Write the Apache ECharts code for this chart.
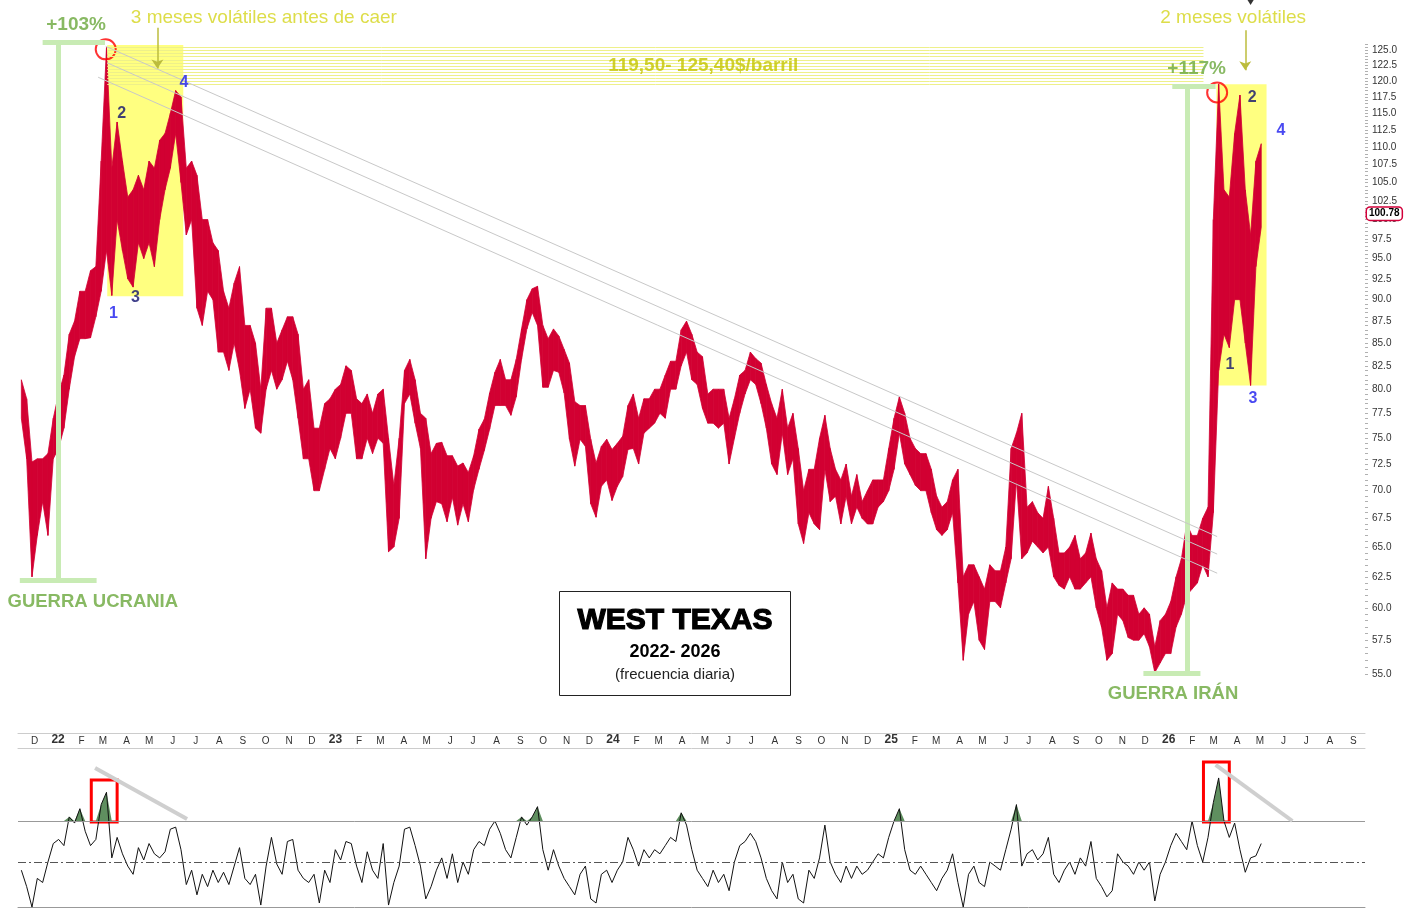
<!DOCTYPE html>
<html>
<head>
<meta charset="utf-8">
<title>West Texas 2022-2026</title>
<script src="https://cdn.jsdelivr.net/npm/echarts@6.0.0/dist/echarts.min.js"></script>
<style>
  html, body { margin: 0; padding: 0; background: #fff; }
  #chart { width: 1416px; height: 910px; }
</style>
</head>
<body>
<div id="chart"></div>
<script>
// one value pair per week, dated on the wednesday; first week = 15-19 nov 2021
const firstWeek = '2021-11-17'

const highs = [
  // 2021
  81, 79, 72.7, 73, 73, 73.5, 77,
  // 2022
  79.5, 81.5, 86, 87.5, 91, 91, 93.5, 94, 108, 125.4,
  107, 113.7, 108, 103, 104, 106, 104, 108, 107, 111,
  112, 115, 118.5, 117.5, 107, 108, 106, 100, 100, 97,
  96, 91, 89, 92, 94, 87, 87, 85, 80, 89,
  89, 85, 86.5, 88, 88, 86, 80, 81, 76, 76,
  78.5, 79,
  // 2023
  80, 80.5, 82.5, 82, 79, 78.5, 79.5, 77.5, 79.5, 80,
  75, 70.5, 75, 82, 83.2, 81, 77.5, 77, 73.5, 74.5,
  74.6, 73.3, 73.3, 72.3, 72.6, 71.7, 73.3, 75.9, 76.9, 79.6,
  81.8, 83.2, 81, 81, 83.2, 86.6, 90, 91.3, 91.6, 87,
  85.5, 86.6, 85.8, 84.3, 82.8, 78.7, 78.3, 78.3, 74.9, 72.6,
  74.2, 74.9,
  // 2024
  73.9, 74.5, 75.2, 78.3, 79.5, 77, 79, 79, 80, 80,
  81.5, 83, 83, 86.5, 87.5, 86, 84, 83.5, 79.5, 80,
  80, 80, 77, 79, 81.5, 82, 84, 83.3, 82.8, 80.5,
  78.5, 77, 80, 76, 77.5, 74, 70, 72, 72, 75,
  77.3, 74, 72, 71, 72.5, 69.5, 71.5, 69, 70, 71,
  71, 71, 74,
  // 2025
  77, 79.2, 77.5, 75, 74, 73.5, 73.5, 72, 69.5, 68.5,
  69, 71, 72, 62.5, 63.5, 63.5, 62.5, 61.5, 63.5, 63,
  63, 65, 74, 75.5, 77.5, 68.5, 69, 68, 67.5, 70.4,
  67.5, 64.5, 64.5, 65, 66, 64, 64.5, 66.2, 64, 63,
  60, 62, 61.5, 61.5, 61, 61, 59.5, 60, 59.5, 57,
  59, 59.5,
  // 2026
  60.5, 62.5, 64, 67, 66, 66, 67.5, 68.5, 100, 119.5,
  104, 103, 112, 117.8, 104, 98, 108, 110.5
]

const lows = [
  // 2021
  77, 73, 62.5, 66, 69, 66, 73,
  // 2022
  74, 76, 80, 83.5, 85.5, 85.5, 85.6, 88, 91, 96,
  90.5, 100, 96, 92.5, 91.5, 97, 95, 97, 94, 100,
  104, 107, 112, 105, 98, 100, 89, 87, 91, 90,
  84, 84, 82, 85, 82, 78, 80, 76, 75.5, 80,
  82, 80, 81, 83, 81, 77, 73, 73, 70, 70,
  72, 74,
  // 2023
  73, 75, 77.5, 77.5, 73, 73, 75, 73.5, 75, 74.5,
  64.6, 65, 67.5, 78.5, 79.5, 76.5, 74, 64, 67.5, 69,
  68.8, 67.2, 69.4, 66.9, 68.8, 67.2, 70.1, 72, 73.8, 75.9,
  78.3, 78.3, 78.3, 77.3, 79.2, 83.2, 86.6, 88.5, 87, 80.2,
  80.2, 82, 81.8, 79.6, 74.9, 72.3, 74.9, 74.2, 68.8, 67.6,
  70.4, 71,
  // 2024
  69.1, 70.4, 71.3, 73.9, 74, 72.5, 75.5, 76, 76.5, 77.5,
  77, 80, 80, 82.5, 84, 81, 80.5, 78, 76.5, 76.5,
  76, 76.5, 72.5, 75, 77.5, 79.5, 81, 80.5, 78.5, 76,
  72.5, 71.5, 75.5, 71.5, 73, 67, 65.3, 68, 67, 66.5,
  72, 69, 69.5, 67, 69.5, 67, 68.5, 67.5, 67, 67,
  68.5, 69, 70,
  // 2025
  72, 75.5, 72.5, 71.5, 70.5, 70, 70, 68, 66.5, 66,
  66.5, 68, 62, 56, 59.5, 60.5, 57.5, 56.8, 60.5, 60.5,
  60, 62, 64, 71, 64, 64.5, 65.5, 65, 64.5, 65,
  62.5, 61.8, 61.5, 62.5, 61.5, 61.5, 62, 62.5, 60, 58.5,
  56, 56.5, 59.5, 59, 57.7, 57.5, 57.5, 58, 57, 55.1,
  55.8, 56.5,
  // 2026
  56.5, 58.5, 59.5, 61, 61.5, 62, 63.5, 62.5, 68, 82,
  86, 84.5, 90, 90, 85, 80.4, 94, 99
]

// oscillator, same weeks (0 = dash-dot line, 1 = upper level)
const osc = [
  -0.2, -0.6, -1.1, -0.4, -0.5, 0.0, 0.45, 0.55, 0.4, 1.1,
  0.95, 1.3, 0.75, 0.4, 0.55, 1.4, 1.7, 0.1, 0.6, 0.2,
  -0.1, -0.3, 0.35, 0.05, 0.45, 0.2, 0.1, 0.25, 0.8, 0.85,
  0.3, -0.55, -0.2, -0.8, -0.3, -0.6, -0.2, -0.5, -0.25, -0.55,
  -0.1, 0.35, -0.4, -0.55, -0.3, -1.05, -0.1, 0.6, -0.05, -0.3,
  0.5, 0.55, -0.2, -0.4, -0.5, -0.3, -1.0, -0.2, -0.5, 0.3,
  0.05, 0.5, 0.45, -0.1, -0.5, 0.25, -0.2, -0.4, 0.45, -1.05,
  -0.5, -0.1, 0.8, 0.85, 0.4, -0.1, -0.9, -0.6, -0.2, 0.1,
  -0.4, 0.2, -0.5, 0.0, -0.3, 0.3, 0.5, 0.4, 0.8, 1.0,
  0.7, 0.3, 0.1, 0.6, 1.1, 0.9, 1.1, 1.35, 0.3, -0.2,
  0.3, -0.1, -0.4, -0.6, -0.8, -0.3, -0.1, -0.9, -1.0, -0.3,
  -0.2, -0.5, -0.2, 0.0, 0.6, 0.3, -0.1, 0.3, 0.1, 0.3,
  0.2, 0.4, 0.6, 0.5, 1.2, 0.9, 0.3, -0.2, -0.4, -0.6,
  -0.2, -0.5, -0.3, -0.7, 0.0, 0.4, 0.5, 0.7, 0.5, 0.1,
  -0.4, -0.7, -0.9, 0.0, -0.5, -0.3, -0.9, -1.0, -0.2, -0.4,
  0.1, 0.9, 0.0, -0.3, -0.5, -0.1, -0.4, -0.1, -0.3, -0.2,
  0.0, 0.2, 0.1, 0.6, 1.0, 1.3, 0.3, -0.2, -0.3, -0.1,
  -0.3, -0.5, -0.7, -0.4, -0.2, 0.2, -0.5, -1.1, -0.3, -0.1,
  -0.5, -0.6, 0.0, -0.1, -0.2, 0.3, 0.8, 1.4, -0.1, 0.2,
  0.3, 0.05, 0.2, 0.6, -0.3, -0.5, -0.2, 0.0, -0.3, 0.1,
  -0.1, 0.5, -0.4, -0.6, -0.85, -0.7, 0.2, 0.0, -0.1, -0.3,
  0.0, -0.2, 0.0, -0.95, -0.3, 0.0, 0.4, 0.7, 0.5, 0.3,
  1.0, 0.4, 0.0, 0.6, 1.45, 2.05, 1.0, 0.6, 0.95, 0.3,
  -0.25, 0.1, 0.15, 0.45
]

const priceTicks = [55.0, 57.5, 60.0, 62.5, 65.0, 67.5, 70.0, 72.5, 75.0, 77.5, 80.0, 82.5, 85.0, 87.5,
  90.0, 92.5, 95.0, 97.5, 100.0, 102.5, 105.0, 107.5, 110.0, 112.5, 115.0, 117.5, 120.0, 122.5, 125.0]
const monthLetters = ['E', 'F', 'M', 'A', 'M', 'J', 'J', 'A', 'S', 'O', 'N', 'D']
const lastPrice = 100.78

// resistance band 119,50 - 125,40
const bandLevels = [125.4, 124.9, 124.4, 123.9, 123.4, 122.9, 122.4, 121.9, 121.4, 120.9, 120.4, 119.9, 119.5]

// texts on the price panel: [text, date, price, style]
const notes = [
  ['+103%', '2022-01-28', 129.2, 'pct'],
  ['3 meses volátiles antes de caer', '2022-10-02', 130.4, 'yellow'],
  ['119,50- 125,40$/barril', '2024-05-02', 122.4, 'band'],
  ['+117%', '2026-02-10', 122.0, 'pct'],
  ['2 meses volátiles', '2026-03-30', 130.4, 'yellow'],
  ['GUERRA UCRANIA', '2022-02-19', 60.5, 'war'],
  ['GUERRA IRÁN', '2026-01-10', 53.6, 'war'],
  ['1', '2022-03-18', 88.4, 'blue'],
  ['2', '2022-03-29', 115.0, 'navy'],
  ['3', '2022-04-16', 90.3, 'navy'],
  ['4', '2022-06-19', 119.7, 'blue'],
  ['1', '2026-03-26', 82.6, 'navy'],
  ['2', '2026-04-24', 117.4, 'navy'],
  ['3', '2026-04-25', 79.0, 'blue'],
  ['4', '2026-06-01', 112.4, 'blue']
]
const circles = [['2022-03-08', 125.1], ['2026-03-09', 118.2]]

const RED = '#d20032'
const GREEN = '#6aa83c'
const BRACKET = '#c8ebb4'
const DAY = 864e5
const WEEK = 7 * DAY
const T0 = Date.UTC(2021, 11, 1)
const X_MIN = T0 - 18.4 * DAY
const X_MAX = T0 + 1753.5 * DAY
const L = Math.log
const Y_MIN = L(55) - 26 / 760.1
const Y_MAX = L(55) + 664 / 760.1

const day = s => new Date(s + 'T00:00:00Z').getTime()
const weekDates = highs.map((_, i) => day(firstWeek) + i * WEEK)

const noteStyles = {
  pct: { color: GREEN, fontSize: 19, fontWeight: 'bold' },
  war: { color: GREEN, fontSize: 18.5, fontWeight: 'bold' },
  yellow: { color: '#d4d41c', fontSize: 19 },
  band: { color: '#c4c400', fontSize: 19, fontWeight: 'bold' },
  blue: { color: '#1a1aee', fontSize: 16, fontWeight: 'bold' },
  navy: { color: '#12126e', fontSize: 16, fontWeight: 'bold' }
}

// segment in price space
const seg = (d1, p1, d2, p2, style) => [
  { coord: [day(d1), L(p1)], lineStyle: style },
  { coord: [day(d2), L(p2)] }
]
// segment in oscillator space
const segO = (d1, v1, d2, v2, style) => [
  { coord: [day(d1), v1], lineStyle: style },
  { coord: [day(d2), v2] }
]

const bracket = { color: BRACKET, width: 5, type: 'solid' }
const diag = { color: '#c8c8c8', width: 1, type: 'solid' }
const bandLine = { color: '#eef08a', width: 1, type: 'solid' }
const arrow = { color: '#bcbc3c', width: 1.5, type: 'solid' }

const monthStarts = []
for (let k = 0; k < 58; k++) monthStarts.push(Date.UTC(2021, 11 + k, 1))
const minorTicks = []
for (let p = 55; p <= 126; p += 0.5) minorTicks.push(L(p))

const hiddenX = (grid) => ({
  type: 'value', gridIndex: grid, min: X_MIN, max: X_MAX,
  axisLine: { show: false }, axisTick: { show: false }, axisLabel: { show: false }, splitLine: { show: false }
})

const chart = echarts.init(document.getElementById('chart'), null, { renderer: 'canvas' })

chart.setOption({
  animation: false,
  backgroundColor: '#fff',
  textStyle: { fontFamily: 'Liberation Sans, Arial, sans-serif' },
  title: {
    left: 657,
    top: 589,
    textAlign: 'center',
    padding: [14, 18, 13, 18],
    borderWidth: 1,
    borderColor: '#222',
    backgroundColor: '#fff',
    z: 20,
    text: '{a|WEST TEXAS}\n{b|2022- 2026}\n{c|(frecuencia diaria)}',
    textStyle: {
      rich: {
        a: { fontSize: 30, fontWeight: 'bold', color: '#000', lineHeight: 36, textBorderColor: '#000', textBorderWidth: 1.2, align: 'center' },
        b: { fontSize: 18, fontWeight: 'bold', color: '#000', lineHeight: 26, align: 'center' },
        c: { fontSize: 15, fontWeight: 'normal', color: '#222', lineHeight: 20, align: 'center' }
      }
    }
  },
  grid: [
    { left: 18, width: 1347, top: 10, height: 690 },
    { left: 18, width: 1347, top: 759.5, height: 147.6 },
    { left: 18, width: 1347, top: 733, height: 15 }
  ],
  xAxis: [
    hiddenX(0),
    Object.assign(hiddenX(1), { axisLine: { show: true, onZero: false, lineStyle: { color: '#999' } } }),
    Object.assign(hiddenX(2), {
      position: 'bottom',
      axisLine: { show: true, onZero: false, lineStyle: { color: '#ccc' } },
      axisLabel: {
        show: true, inside: true, margin: 2, padding: [0, 0, 0, 5],
        customValues: monthStarts,
        formatter: v => {
          const dt = new Date(v)
          const m = dt.getUTCMonth()
          return m === 0 ? '{y|' + String(dt.getUTCFullYear()).slice(2) + '}' : '{m|' + monthLetters[m] + '}'
        },
        rich: {
          y: { fontSize: 12, fontWeight: 'bold', color: '#333' },
          m: { fontSize: 10, color: '#333' }
        }
      }
    }),
    Object.assign(hiddenX(2), {
      position: 'top',
      axisLine: { show: true, onZero: false, lineStyle: { color: '#ccc' } }
    })
  ],
  yAxis: [
    {
      type: 'value', gridIndex: 0, position: 'right', min: Y_MIN, max: Y_MAX,
      axisLine: { show: false },
      splitLine: { show: false },
      axisTick: { show: true, customValues: minorTicks, length: 3, lineStyle: { color: '#b0b0b0' } },
      axisLabel: {
        customValues: priceTicks.map(L),
        formatter: v => Math.exp(v).toFixed(1),
        fontSize: 10, color: '#333', margin: 7
      },
      axisPointer: {
        show: true, type: 'line', snap: false, triggerTooltip: false,
        status: 'show', value: L(lastPrice),
        lineStyle: { opacity: 0 },
        label: {
          show: true, formatter: () => lastPrice.toFixed(2),
          backgroundColor: '#fff', borderColor: '#d2003a', borderWidth: 1.5,
          color: '#000', fontWeight: 'bold', fontSize: 10, padding: [1, 2], margin: 2
        }
      }
    },
    { type: 'value', gridIndex: 1, min: -1.1, max: 2.5, show: false },
    { type: 'value', gridIndex: 2, show: false }
  ],
  series: [
    {
      // things drawn under the price band
      type: 'line', name: 'under', xAxisIndex: 0, yAxisIndex: 0, z: 1, clip: false,
      data: [[X_MIN, Y_MIN]], symbol: 'none', lineStyle: { width: 0 }, silent: true,
      markArea: {
        silent: true,
        itemStyle: { color: '#ffff80' },
        label: { show: false },
        data: [
          [{ coord: [day('2022-03-10'), L(125.8)] }, { coord: [day('2022-06-18'), L(90.4)] }],
          [{ coord: [day('2026-03-08'), L(119.5)] }, { coord: [day('2026-05-13'), L(80.4)] }]
        ]
      },
      markLine: {
        silent: true, symbol: ['none', 'none'], label: { show: false },
        data: [
          ...bandLevels.map(p => seg('2022-03-10', p, '2026-02-19', p, bandLine)),
          seg('2021-12-15', 126.3, '2022-03-07', 126.3, bracket),
          seg('2022-01-04', 126.3, '2022-01-04', 62.24, bracket),
          seg('2021-11-15', 62.24, '2022-02-24', 62.24, bracket),
          seg('2026-01-09', 119.2, '2026-03-07', 119.2, bracket),
          seg('2026-01-29', 119.2, '2026-01-29', 55.07, bracket),
          seg('2025-12-02', 55.07, '2026-02-15', 55.07, bracket)
        ]
      }
    },
    {
      // high-low band, one slice from each week to the next
      type: 'custom', name: 'WTI', xAxisIndex: 0, yAxisIndex: 0, z: 2,
      data: weekDates.map((t, i) => [t, L(highs[i]), L(lows[i])]),
      encode: { x: 0, y: [1, 2] },
      renderItem: (params, api) => {
        const i = params.dataIndexInside
        if (i >= highs.length - 1) return null
        const h0 = api.coord([api.value(0, i), api.value(1, i)])
        const l0 = api.coord([api.value(0, i), api.value(2, i)])
        const h1 = api.coord([api.value(0, i + 1), api.value(1, i + 1)])
        const l1 = api.coord([api.value(0, i + 1), api.value(2, i + 1)])
        return {
          type: 'polygon',
          shape: { points: [h0, h1, l1, l0] },
          style: { fill: RED, stroke: RED, lineWidth: 0.8 }
        }
      }
    },
    {
      // things drawn over the price band
      type: 'line', name: 'over', xAxisIndex: 0, yAxisIndex: 0, z: 3, clip: false,
      data: [[X_MIN, Y_MIN]], symbol: 'none', lineStyle: { width: 0 }, silent: true,
      markLine: {
        silent: true, symbol: ['none', 'none'], label: { show: false },
        data: [
          seg('2022-03-08', 125.6, '2026-03-09', 65.9, diag),
          seg('2022-03-10', 122.9, '2026-03-09', 64.4, diag),
          seg('2022-02-26', 120.6, '2026-03-09', 62.8, diag),
          [{ coord: [day('2022-05-15'), L(128.7)], lineStyle: arrow, symbol: 'none' },
           { coord: [day('2022-05-15'), L(122.0)], symbol: 'arrow', symbolSize: 9 }],
          [{ coord: [day('2026-04-15'), L(128.3)], lineStyle: arrow, symbol: 'none' },
           { coord: [day('2026-04-15'), L(121.7)], symbol: 'arrow', symbolSize: 9 }]
        ]
      }
    },
    {
      type: 'scatter', name: 'circles', xAxisIndex: 0, yAxisIndex: 0, z: 4, clip: false, silent: true,
      symbol: 'circle', symbolSize: 20,
      itemStyle: { color: 'rgba(0,0,0,0)', borderColor: '#ff0000', borderWidth: 2 },
      data: circles.map(c => [day(c[0]), L(c[1])])
    },
    {
      type: 'scatter', name: 'marker', xAxisIndex: 0, yAxisIndex: 0, z: 4, clip: false, silent: true,
      symbol: 'triangle', symbolRotate: 180, symbolSize: [11, 9],
      itemStyle: { color: '#000' },
      data: [[day('2026-04-22'), L(133.4)]]
    },
    {
      type: 'scatter', name: 'notes', xAxisIndex: 0, yAxisIndex: 0, z: 5, clip: false, silent: true,
      symbolSize: 1, itemStyle: { color: 'rgba(0,0,0,0)' },
      data: notes.map(n => ({
        value: [day(n[1]), L(n[2])],
        label: Object.assign({ show: true, formatter: n[0], position: 'inside' }, noteStyles[n[3]])
      }))
    },
    {
      type: 'line', name: 'osc fill', xAxisIndex: 1, yAxisIndex: 1, z: 2, silent: true,
      data: weekDates.map((t, i) => [t, Math.max(osc[i], 1)]),
      symbol: 'none', lineStyle: { width: 0 },
      areaStyle: { origin: 1, color: '#5f8f5f', opacity: 1 }
    },
    {
      type: 'line', name: 'osc', xAxisIndex: 1, yAxisIndex: 1, z: 3, silent: true,
      data: weekDates.map((t, i) => [t, osc[i]]),
      symbol: 'none', lineStyle: { color: '#111', width: 1 },
      markLine: {
        silent: true, symbol: ['none', 'none'], label: { show: false },
        data: [
          { yAxis: 1, lineStyle: { color: '#999', width: 1, type: 'solid' } },
          { yAxis: 0, lineStyle: { color: '#555', width: 1, type: [8, 3, 2, 3] } },
          segO('2022-02-22', 2.29, '2022-06-23', 1.05, { color: '#cfcfcf', width: 4, type: 'solid' }),
          segO('2026-03-07', 2.37, '2026-06-16', 1.0, { color: '#cfcfcf', width: 4, type: 'solid' })
        ]
      },
      markArea: {
        silent: true, label: { show: false },
        itemStyle: { color: 'rgba(0,0,0,0)', borderColor: '#ff0000', borderWidth: 3 },
        data: [
          [{ coord: [day('2022-02-17'), 2.0] }, { coord: [day('2022-03-23'), 0.976] }],
          [{ coord: [day('2026-02-19'), 2.44] }, { coord: [day('2026-03-25'), 0.976] }]
        ]
      }
    }
  ]
})
</script>
</body>
</html>
